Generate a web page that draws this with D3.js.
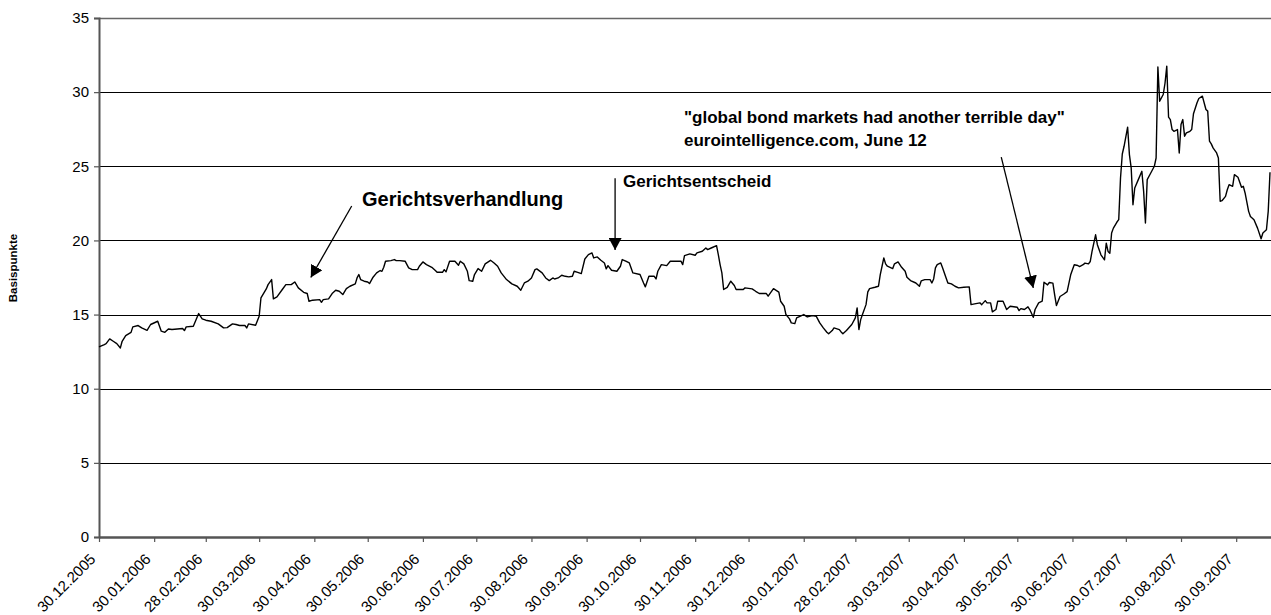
<!DOCTYPE html>
<html><head><meta charset="utf-8">
<script src="https://cdn.jsdelivr.net/npm/d3@7"></script>
<style>
body{margin:0;background:#fff}
svg{display:block}
text{font-family:Arial,"Liberation Sans",sans-serif;fill:#000}
</style>
</head><body>
<svg id="chart" width="1271" height="615"></svg>
<script>
// ---- data ----
const spreadSeries = [
["2005-12-30",12.82],["2006-01-02",12.98],["2006-01-03",13.04],["2006-01-05",13.36],["2006-01-07",13.20],
["2006-01-09",13.04],["2006-01-11",12.75],["2006-01-12",13.20],["2006-01-14",13.58],["2006-01-17",13.80],
["2006-01-18",14.17],["2006-01-21",14.26],["2006-01-23",14.10],["2006-01-26",13.94],["2006-01-28",14.33],
["2006-02-01",14.55],["2006-02-03",13.88],["2006-02-05",13.80],["2006-02-07",14.03],["2006-02-09",13.99],
["2006-02-15",14.06],["2006-02-16",13.92],["2006-02-17",14.17],["2006-02-21",14.21],["2006-02-24",15.07],
["2006-02-26",14.71],["2006-02-28",14.62],["2006-03-03",14.55],["2006-03-07",14.37],["2006-03-10",14.10],
["2006-03-12",14.12],["2006-03-15",14.37],["2006-03-17",14.33],["2006-03-19",14.26],["2006-03-22",14.26],
["2006-03-23",14.10],["2006-03-24",14.37],["2006-03-28",14.28],["2006-03-30",14.89],["2006-03-31",16.12],
["2006-04-03",16.73],["2006-04-04",17.02],["2006-04-06",17.36],["2006-04-07",16.06],["2006-04-09",16.19],
["2006-04-12",16.69],["2006-04-14",17.02],["2006-04-17",17.02],["2006-04-19",17.20],["2006-04-21",16.80],
["2006-04-24",16.50],["2006-04-26",16.42],["2006-04-27",15.90],["2006-04-29",15.97],["2006-05-03",16.01],
["2006-05-04",15.83],["2006-05-05",16.01],["2006-05-08",16.06],["2006-05-10",16.42],["2006-05-12",16.64],
["2006-05-14",16.57],["2006-05-16",16.35],["2006-05-18",16.75],["2006-05-20",16.91],["2006-05-23",17.07],
["2006-05-24",17.47],["2006-05-25",17.70],["2006-05-26",17.36],["2006-05-28",17.25],["2006-05-30",17.20],
["2006-05-31",17.09],["2006-06-02",17.52],["2006-06-04",17.81],["2006-06-06",17.97],["2006-06-07",17.92],
["2006-06-08",18.19],["2006-06-09",18.60],["2006-06-12",18.64],["2006-06-14",18.71],["2006-06-15",18.64],
["2006-06-17",18.64],["2006-06-20",18.60],["2006-06-22",18.15],["2006-06-24",18.03],["2006-06-27",18.03],
["2006-06-28",18.26],["2006-06-30",18.55],["2006-07-02",18.37],["2006-07-05",18.19],["2006-07-07",17.97],
["2006-07-08",17.85],["2006-07-11",17.85],["2006-07-12",18.03],["2006-07-13",17.88],["2006-07-15",18.60],
["2006-07-18",18.60],["2006-07-20",18.33],["2006-07-21",18.60],["2006-07-23",18.42],["2006-07-25",17.92],
["2006-07-26",17.29],["2006-07-28",17.25],["2006-07-29",17.70],["2006-07-31",18.10],["2006-08-02",17.92],
["2006-08-04",18.42],["2006-08-07",18.66],["2006-08-09",18.48],["2006-08-11",18.26],["2006-08-13",17.81],
["2006-08-16",17.36],["2006-08-19",17.07],["2006-08-22",16.91],["2006-08-24",16.64],["2006-08-26",17.13],
["2006-08-28",17.25],["2006-08-30",17.47],["2006-09-01",18.03],["2006-09-02",18.08],["2006-09-05",17.81],
["2006-09-07",17.47],["2006-09-09",17.29],["2006-09-11",17.47],["2006-09-12",17.40],["2006-09-14",17.47],
["2006-09-16",17.65],["2006-09-18",17.58],["2006-09-20",17.54],["2006-09-22",17.58],["2006-09-23",17.92],
["2006-09-25",17.85],["2006-09-27",17.76],["2006-09-29",18.75],["2006-10-01",19.04],["2006-10-03",19.16],
["2006-10-04",18.82],["2006-10-06",18.89],["2006-10-08",18.66],["2006-10-10",18.48],["2006-10-11",18.08],
["2006-10-12",18.30],["2006-10-14",17.99],["2006-10-17",17.92],["2006-10-19",18.26],["2006-10-20",18.71],
["2006-10-22",18.60],["2006-10-24",18.48],["2006-10-26",17.81],["2006-10-30",17.70],["2006-11-01",17.13],
["2006-11-02",16.87],["2006-11-04",17.58],["2006-11-07",17.58],["2006-11-08",17.40],["2006-11-09",17.92],
["2006-11-11",18.37],["2006-11-14",18.30],["2006-11-16",18.60],["2006-11-22",18.60],["2006-11-23",18.37],
["2006-11-24",18.98],["2006-11-27",19.09],["2006-11-30",19.00],["2006-12-01",19.16],["2006-12-04",19.27],
["2006-12-06",19.49],["2006-12-07",19.38],["2006-12-09",19.49],["2006-12-12",19.65],["2006-12-13",19.04],
["2006-12-14",18.37],["2006-12-15",17.81],["2006-12-16",16.69],["2006-12-18",16.84],["2006-12-20",17.25],
["2006-12-22",16.96],["2006-12-23",16.69],["2006-12-27",16.69],["2006-12-28",16.80],["2007-01-01",16.73],
["2007-01-03",16.57],["2007-01-05",16.42],["2007-01-09",16.42],["2007-01-10",16.24],["2007-01-13",16.75],
["2007-01-16",16.51],["2007-01-17",15.90],["2007-01-19",15.56],["2007-01-20",15.00],["2007-01-22",14.71],
["2007-01-23",14.44],["2007-01-25",14.39],["2007-01-26",14.78],["2007-01-30",15.00],["2007-02-01",14.84],
["2007-02-04",14.93],["2007-02-06",14.89],["2007-02-08",14.44],["2007-02-10",14.10],["2007-02-12",13.81],
["2007-02-13",13.70],["2007-02-15",13.92],["2007-02-16",14.10],["2007-02-19",13.99],["2007-02-20",13.83],
["2007-02-21",13.70],["2007-02-23",13.92],["2007-02-26",14.33],["2007-02-28",14.78],["2007-03-01",15.45],
["2007-03-02",13.99],["2007-03-03",14.66],["2007-03-04",15.00],["2007-03-06",15.67],["2007-03-07",16.53],
["2007-03-08",16.75],["2007-03-11",16.84],["2007-03-13",16.91],["2007-03-14",17.70],["2007-03-15",18.26],
["2007-03-16",18.82],["2007-03-17",18.42],["2007-03-18",18.26],["2007-03-21",18.10],["2007-03-22",18.42],
["2007-03-24",18.55],["2007-03-26",18.19],["2007-03-28",17.92],["2007-03-29",17.52],["2007-03-31",17.29],
["2007-04-03",17.13],["2007-04-05",16.91],["2007-04-06",17.27],["2007-04-08",17.36],["2007-04-11",17.36],
["2007-04-12",17.13],["2007-04-13",17.40],["2007-04-14",18.15],["2007-04-15",18.37],["2007-04-17",18.48],
["2007-04-18",18.15],["2007-04-20",17.47],["2007-04-21",17.13],["2007-04-23",17.07],["2007-04-25",16.91],
["2007-04-27",16.80],["2007-04-30",16.84],["2007-05-03",16.87],["2007-05-04",15.67],["2007-05-06",15.72],
["2007-05-09",15.79],["2007-05-10",15.67],["2007-05-12",15.94],["2007-05-13",15.79],["2007-05-15",15.79],
["2007-05-16",15.18],["2007-05-18",15.34],["2007-05-19",15.90],["2007-05-22",15.90],["2007-05-24",15.34],
["2007-05-26",15.56],["2007-05-30",15.49],["2007-05-31",15.27],["2007-06-01",15.40],["2007-06-03",15.34],
["2007-06-05",15.52],["2007-06-06",15.34],["2007-06-08",14.82],["2007-06-09",15.34],["2007-06-11",15.79],
["2007-06-13",15.90],["2007-06-14",17.18],["2007-06-16",17.00],["2007-06-17",17.16],["2007-06-19",17.12],
["2007-06-20",16.33],["2007-06-21",15.61],["2007-06-23",16.22],["2007-06-25",16.37],["2007-06-27",16.55],
["2007-06-29",17.68],["2007-07-01",18.36],["2007-07-03",18.31],["2007-07-04",18.24],["2007-07-06",18.36],
["2007-07-07",18.47],["2007-07-09",18.42],["2007-07-10",18.58],["2007-07-11",19.26],["2007-07-13",20.38],
["2007-07-14",19.71],["2007-07-16",19.03],["2007-07-18",18.69],["2007-07-19",19.82],["2007-07-20",19.26],
["2007-07-21",19.14],["2007-07-22",20.50],["2007-07-23",20.83],["2007-07-25",21.24],["2007-07-26",21.40],
["2007-07-27",24.21],["2007-07-28",25.83],["2007-07-29",26.35],["2007-07-31",27.64],["2007-08-01",25.79],
["2007-08-02",24.89],["2007-08-03",22.41],["2007-08-04",23.54],["2007-08-06",24.10],["2007-08-08",24.66],
["2007-08-09",23.31],["2007-08-10",21.17],["2007-08-11",24.10],["2007-08-13",24.55],["2007-08-15",25.00],
["2007-08-16",25.56],["2007-08-17",31.70],["2007-08-18",29.39],["2007-08-20",29.84],["2007-08-21",30.60],
["2007-08-22",31.75],["2007-08-23",28.31],["2007-08-24",28.15],["2007-08-25",27.48],["2007-08-26",27.36],
["2007-08-28",27.48],["2007-08-29",25.90],["2007-08-30",27.82],["2007-08-31",28.15],["2007-09-01",27.03],
["2007-09-02",27.25],["2007-09-04",27.36],["2007-09-05",27.48],["2007-09-06",28.54],["2007-09-08",29.28],
["2007-09-09",29.57],["2007-09-11",29.73],["2007-09-13",28.83],["2007-09-14",28.72],["2007-09-15",26.69],
["2007-09-16",26.51],["2007-09-17",26.24],["2007-09-19",25.90],["2007-09-20",25.56],["2007-09-21",22.64],
["2007-09-22",22.68],["2007-09-24",22.97],["2007-09-25",23.42],["2007-09-26",23.76],["2007-09-28",23.65],
["2007-09-29",24.44],["2007-10-01",24.26],["2007-10-03",23.58],["2007-10-04",23.65],["2007-10-05",23.20],
["2007-10-07",21.96],["2007-10-08",21.62],["2007-10-10",21.40],["2007-10-12",20.83],["2007-10-14",20.11],
["2007-10-15",20.50],["2007-10-17",20.72],["2007-10-18",21.96],["2007-10-19",24.60]
];
const xTickLabels = ["30.12.2005","30.01.2006","28.02.2006","30.03.2006","30.04.2006","30.05.2006",
  "30.06.2006","30.07.2006","30.08.2006","30.09.2006","30.10.2006","30.11.2006","30.12.2006",
  "30.01.2007","28.02.2007","30.03.2007","30.04.2007","30.05.2007","30.06.2007","30.07.2007",
  "30.08.2007","30.09.2007"];
const yTickValues = [0,5,10,15,20,25,30,35];
const xDomain = ["2005-12-30","2007-10-19"];
const yTitle = "Basispunkte";
const noteTexts = ["Gerichtsverhandlung","Gerichtsentscheid",
  "\"global bond markets had another terrible day\"","eurointelligence.com, June 12"];
// arrow anchors as [date, value] pairs (start, end)
const noteArrows = [
  [["2006-05-21",22.32],["2006-04-28",17.5]],
  [["2006-10-16",24.2],["2006-10-16",19.35]],
  [["2007-05-21",25.62],["2007-06-08",16.8]]
];

// ---- drawing ----
const W = 1271, H = 615;
const mLeft = 99, mRight = 1270, mTop = 18, mBottom = 537;
const parseISO = d3.timeParse("%Y-%m-%d");
const parseDE = d3.timeParse("%d.%m.%Y");
const data = spreadSeries.map(d => ({date: parseISO(d[0]), value: d[1]}));

const x = d3.scaleTime().domain(xDomain.map(parseISO)).range([mLeft, mRight]);
const y = d3.scaleLinear().domain([0, 35]).range([mBottom, mTop]);

const svg = d3.select("#chart");
svg.append("rect").attr("width", W).attr("height", H).attr("fill", "#fff");

// grid lines
svg.append("g").selectAll("line").data(yTickValues.filter(v => v > 0)).join("line")
  .attr("x1", mLeft).attr("x2", W)
  .attr("y1", d => Math.round(y(d)) + 0.5).attr("y2", d => Math.round(y(d)) + 0.5)
  .attr("stroke", d => d === 35 ? "#666" : "#000").attr("stroke-width", d => d === 35 ? 1.5 : 1);

// y axis
const yAxis = svg.append("g").attr("transform", `translate(${mLeft},0)`)
  .call(d3.axisLeft(y).tickValues(yTickValues).tickSize(5).tickPadding(5).tickFormat(d3.format("d")));
yAxis.select(".domain").attr("stroke", "#555").attr("stroke-width", 2);
yAxis.selectAll(".tick line").attr("stroke", "#555").attr("stroke-width", 1.2);
yAxis.selectAll(".tick text").attr("font-size", 15).attr("fill", "#000");

// x axis
const xAxis = svg.append("g").attr("transform", `translate(0,${mBottom})`)
  .call(d3.axisBottom(x).tickValues(xTickLabels.map(parseDE)).tickSize(5)
    .tickFormat(d3.timeFormat("%d.%m.%Y")));
xAxis.select(".domain").attr("stroke", "#555").attr("stroke-width", 2.5)
  .attr("d", `M${mLeft},0.5H${W}`);
xAxis.selectAll(".tick line").attr("stroke", "#555").attr("stroke-width", 1.2);
xAxis.selectAll(".tick text")
  .attr("font-size", 15).attr("text-anchor", "end")
  .attr("x", 0).attr("y", 0).attr("dy", 0)
  .attr("transform", "translate(-3,23) rotate(-45)");

// y title
svg.append("text").attr("transform", `translate(17,268) rotate(-90)`)
  .attr("text-anchor", "middle").attr("font-size", 11.5).attr("font-weight", "bold").text(yTitle);

// series line
svg.append("path").datum(data)
  .attr("fill", "none").attr("stroke", "#000").attr("stroke-width", 1.4)
  .attr("stroke-linejoin", "round")
  .attr("d", d3.line().x(d => x(d.date)).y(d => y(d.value)));

// arrows
svg.append("defs").append("marker").attr("id", "ah")
  .attr("viewBox", "0 0 10 10").attr("refX", 10).attr("refY", 5)
  .attr("markerWidth", 12).attr("markerHeight", 13).attr("markerUnits", "userSpaceOnUse")
  .attr("orient", "auto").attr("preserveAspectRatio", "none")
  .append("path").attr("d", "M0,0L10,5L0,10Z").attr("fill", "#000");
svg.append("g").selectAll("line").data(noteArrows).join("line")
  .attr("x1", d => x(parseISO(d[0][0]))).attr("y1", d => y(d[0][1]))
  .attr("x2", d => x(parseISO(d[1][0]))).attr("y2", d => y(d[1][1]))
  .attr("stroke", "#000").attr("stroke-width", 1.3).attr("marker-end", "url(#ah)");

// annotation texts
svg.append("text").attr("x", 362).attr("y", 206).attr("font-size", 20).attr("font-weight", "bold")
  .text(noteTexts[0]);
svg.append("text").attr("x", 623).attr("y", 187).attr("font-size", 17).attr("font-weight", "bold")
  .text(noteTexts[1]);
svg.append("text").attr("x", 684).attr("y", 123).attr("font-size", 17).attr("font-weight", "bold")
  .text(noteTexts[2]);
svg.append("text").attr("x", 684).attr("y", 146).attr("font-size", 17).attr("font-weight", "bold")
  .text(noteTexts[3]);
</script>
</body></html>
